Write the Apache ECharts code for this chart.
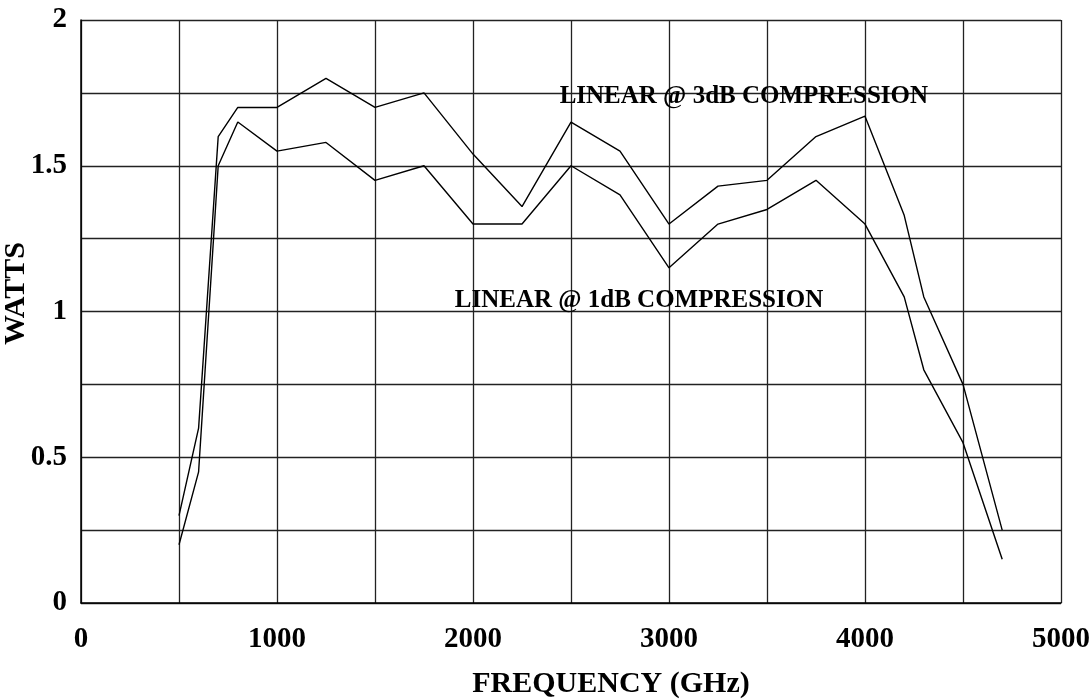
<!DOCTYPE html>
<html>
<head>
<meta charset="utf-8">
<script src="https://cdn.jsdelivr.net/npm/echarts@6/dist/echarts.min.js"></script>
<style>html,body{margin:0;padding:0;background:#fff;}#c{width:1092px;height:700px;}</style>
</head>
<body>
<div id="c"></div>
<script>
var freqs = [500, 600, 700, 800, 1000, 1250, 1500, 1750, 2000, 2250, 2500, 2750, 3000, 3250, 3500, 3750, 4000, 4200, 4300, 4500, 4700];
var watts3dB = [0.3, 0.6, 1.6, 1.7, 1.7, 1.8, 1.7, 1.75, 1.54, 1.36, 1.65, 1.55, 1.3, 1.43, 1.45, 1.6, 1.67, 1.33, 1.05, 0.75, 0.25];
var watts1dB = [0.2, 0.45, 1.5, 1.65, 1.55, 1.58, 1.45, 1.5, 1.3, 1.3, 1.5, 1.4, 1.15, 1.3, 1.35, 1.45, 1.3, 1.05, 0.8, 0.55, 0.15];
var xTicks = [0, 1000, 2000, 3000, 4000, 5000];
var yTicks = [0, 0.5, 1, 1.5, 2];
var label3dB = {text: 'LINEAR @ 3dB COMPRESSION', at: [2442, 1.738]};
var label1dB = {text: 'LINEAR @ 1dB COMPRESSION', at: [1907, 1.038]};

var FONT = '"Liberation Serif","Times New Roman",serif';
function pairs(xs, ys){ return xs.map(function(x,i){ return [x, ys[i]]; }); }
function annot(l){
  return {
    symbol: 'circle', symbolSize: 0, silent: true,
    data: [{coord: l.at, value: l.text}],
    label: {show: true, position: 'right', distance: 0, formatter: '{c}',
      color: '#000', fontFamily: FONT, fontWeight: 'bold', fontSize: 25}
  };
}
var chart = echarts.init(document.getElementById('c'), null, {renderer: 'canvas'});
chart.setOption({
  animation: false,
  backgroundColor: '#fff',
  grid: {left: 81, top: 20, right: 31, bottom: 97, show: false, containLabel: false, outerBoundsMode: 'none'},
  xAxis: {
    type: 'value', min: 0, max: 5000, interval: 500,
    name: 'FREQUENCY (GHz)', nameLocation: 'middle', nameGap: 66, nameMoveOverlap: false,
    nameTextStyle: {color: '#000', fontFamily: FONT, fontWeight: 'bold', fontSize: 30, padding: [0,0,0,80]},
    axisLine: {show: true, lineStyle: {color: '#000', width: 1.5}},
    axisTick: {show: false},
    splitLine: {show: true, lineStyle: {color: '#222', width: 1.3}},
    axisLabel: {color: '#000', fontFamily: FONT, fontWeight: 'bold', fontSize: 29, margin: 22,
      formatter: function(v){ return xTicks.indexOf(v) >= 0 ? String(v) : ''; }}
  },
  yAxis: {
    type: 'value', min: 0, max: 2, interval: 0.25,
    name: 'WATTS', nameLocation: 'middle', nameGap: 50, nameRotate: 90, nameMoveOverlap: false,
    nameTextStyle: {color: '#000', fontFamily: FONT, fontWeight: 'bold', fontSize: 30, padding: [0,0,0,36]},
    axisLine: {show: true, lineStyle: {color: '#000', width: 1.5}},
    axisTick: {show: false},
    splitLine: {show: true, lineStyle: {color: '#222', width: 1.3}},
    axisLabel: {color: '#000', fontFamily: FONT, fontWeight: 'bold', fontSize: 29, margin: 14,
      formatter: function(v){ return yTicks.indexOf(v) >= 0 ? String(v) : ''; }}
  },
  series: [
    {type: 'line', name: '3dB', data: pairs(freqs, watts3dB), showSymbol: false,
     lineStyle: {color: '#000', width: 1.4}, markPoint: annot(label3dB), z: 3},
    {type: 'line', name: '1dB', data: pairs(freqs, watts1dB), showSymbol: false,
     lineStyle: {color: '#000', width: 1.4}, markPoint: annot(label1dB), z: 3}
  ]
});
</script>
</body>
</html>
